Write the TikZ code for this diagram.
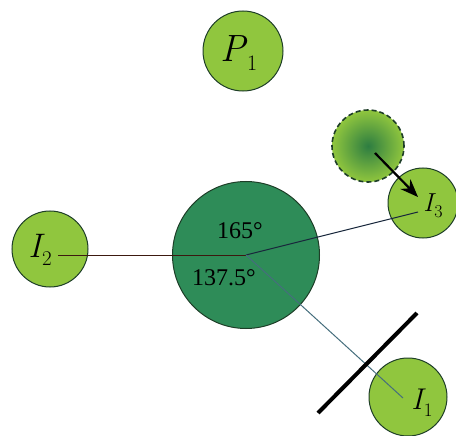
\documentclass[tikz,border=0pt]{standalone}
\usepackage{fontspec}
\setmainfont{Liberation Serif}
\newfontfamily\lmfont{Latin Modern Roman}
\usetikzlibrary{arrows.meta}
\definecolor{lgreen}{RGB}{144,198,62}
\definecolor{dgreen}{RGB}{46,140,88}
\definecolor{edgec}{RGB}{30,62,40}
\definecolor{spot}{RGB}{45,125,65}
% #1 letter, #2 subscript, #3 size, #4 subscript size, #5 drop
\newcommand{\varlab}[5]{{\lmfont\fontsize{#3}{#3}\selectfont\itshape #1}\kern1pt\raisebox{-#5pt}{\lmfont\fontsize{#4}{#4}\selectfont #2}}
\tikzset{
  ball/.style={circle, draw=edgec, line width=1pt, fill=lgreen, inner sep=0pt},
  lab/.style={inner sep=0pt},
  deg/.style={inner sep=0pt, font=\fontsize{24}{26}\selectfont},
  ray/.style={line width=1pt}
}
\begin{document}
\begin{tikzpicture}[x=1pt,y=-1pt]
\useasboundingbox (0,0) rectangle (456,436);
% circles
\node[ball, minimum size=80pt] (p1) at (243,51) {};
\node[ball, minimum size=76pt] (i2) at (50,249) {};
\node[ball, minimum size=70pt] (i3) at (423,203) {};
\node[ball, minimum size=78pt] (i1) at (408,397) {};
\node[circle, draw=edgec, line width=1pt, fill=dgreen, minimum size=147pt, inner sep=0pt] (c) at (246,255) {};
\node[circle, draw=edgec, line width=1.6pt, dash pattern=on 5pt off 3pt, inner color=spot, outer color=lgreen, minimum size=72pt, inner sep=0pt] (g) at (368,146) {};
% named endpoints
\coordinate (e2) at (58,255);
\coordinate (e3) at (418,212);
\coordinate (e1) at (403,398);
\coordinate (gs) at (375,153);
\coordinate (gt) at (418,197);
\coordinate (wa) at (318,413);
\coordinate (wb) at (417,313);
% rays
\draw[ray, draw={rgb,255:red,60;green,25;blue,15}] (c.center) -- (e2);
\draw[ray, draw={rgb,255:red,25;green,40;blue,60}] (c.center) -- (e3);
\draw[ray, draw={rgb,255:red,70;green,110;blue,125}] (c.center) -- (e1);
% wall
\draw[line width=4pt, black] (wa) -- (wb);
% arrow
\draw[line width=2.2pt, -{Stealth[length=18pt,width=14pt]}] (gs) -- (gt);
% labels
\node[lab] (lp1) at (239,53) {\varlab{P}{1}{38}{22}{9}};
\node[lab] (li2) at (40,250) {\varlab{I}{2}{34}{21}{8}};
\node[lab] (li3) at (433,206) {\varlab{I}{3}{26}{18}{6}};
\node[lab] (li1) at (422,403) {\varlab{I}{1}{30}{19}{7}};
\node[deg] (d1) at (240,231) {165°};
\node[deg] (d2) at (224,278) {137.5°};
\end{tikzpicture}
\end{document}
